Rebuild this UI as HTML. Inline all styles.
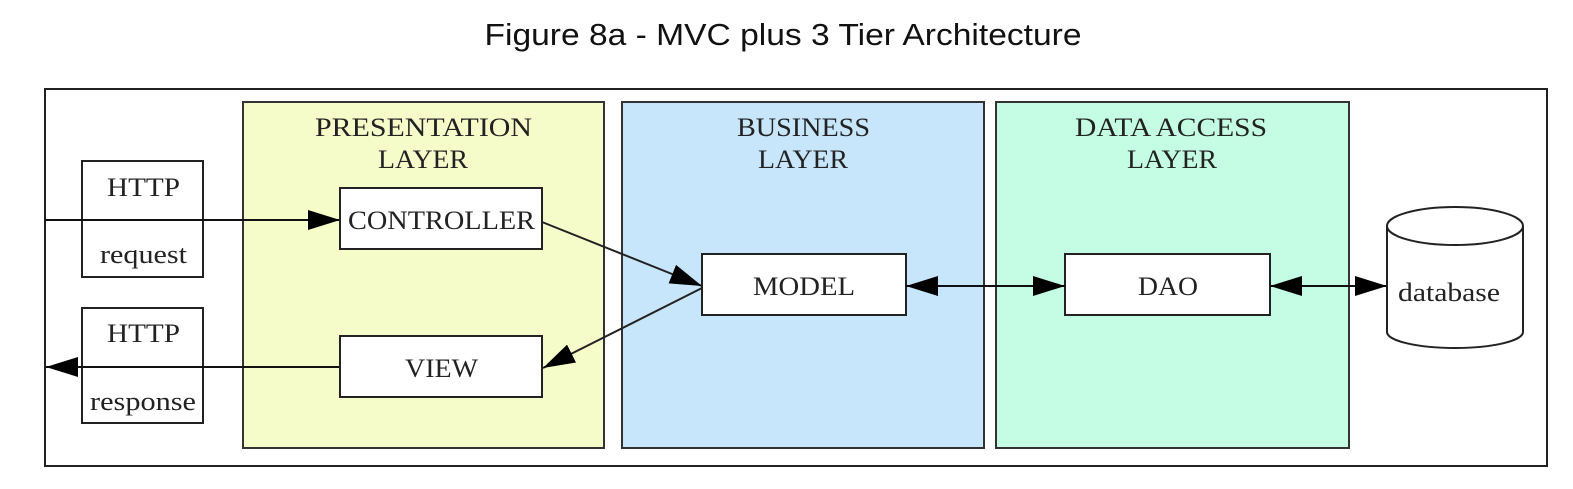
<!DOCTYPE html>
<html><head><meta charset="utf-8"><style>
html,body{margin:0;padding:0;background:#fff;width:1573px;height:489px;overflow:hidden}
svg{display:block}
.s{font-family:"Liberation Serif",serif;font-size:26px;fill:#222}
</style></head><body>
<svg width="1573" height="489" viewBox="0 0 1573 489" xmlns="http://www.w3.org/2000/svg">
<defs>
<marker id="a" markerWidth="32" markerHeight="24" refX="32" refY="12" orient="auto" markerUnits="userSpaceOnUse">
<path d="M0,2 L32,12 L0,22 z" fill="#000"/></marker>
</defs>
<text x="783" y="45" text-anchor="middle" font-family="Liberation Sans, sans-serif" font-size="31" fill="#111" textLength="597" lengthAdjust="spacingAndGlyphs">Figure 8a - MVC plus 3 Tier Architecture</text>
<rect x="45" y="89" width="1502" height="377" fill="#fff" stroke="#222" stroke-width="2"/>
<rect x="243" y="102" width="361" height="346" fill="#f5fcca" stroke="#333" stroke-width="2"/>
<rect x="622" y="102" width="362" height="346" fill="#c7e6fb" stroke="#333" stroke-width="2"/>
<rect x="996" y="102" width="353" height="346" fill="#c4fde3" stroke="#333" stroke-width="2"/>
<text class="s" x="315" y="136" textLength="217" lengthAdjust="spacingAndGlyphs">PRESENTATION</text>
<text class="s" x="378" y="168" textLength="90" lengthAdjust="spacingAndGlyphs">LAYER</text>
<text class="s" x="737" y="136" textLength="133" lengthAdjust="spacingAndGlyphs">BUSINESS</text>
<text class="s" x="758" y="168" textLength="90" lengthAdjust="spacingAndGlyphs">LAYER</text>
<text class="s" x="1075" y="136" textLength="192" lengthAdjust="spacingAndGlyphs">DATA ACCESS</text>
<text class="s" x="1127" y="168" textLength="90" lengthAdjust="spacingAndGlyphs">LAYER</text>
<rect x="82" y="161" width="121" height="116" fill="#fff" stroke="#222" stroke-width="2"/>
<text class="s" x="107" y="196" textLength="73" lengthAdjust="spacingAndGlyphs">HTTP</text>
<text class="s" x="100" y="263" textLength="87" lengthAdjust="spacingAndGlyphs">request</text>
<rect x="82" y="308" width="121" height="115" fill="#fff" stroke="#222" stroke-width="2"/>
<text class="s" x="107" y="342" textLength="73" lengthAdjust="spacingAndGlyphs">HTTP</text>
<text class="s" x="90" y="410" textLength="106" lengthAdjust="spacingAndGlyphs">response</text>
<line x1="45" y1="220" x2="340" y2="220" stroke="#111" stroke-width="2" marker-end="url(#a)"/>
<line x1="340" y1="367" x2="46" y2="367" stroke="#111" stroke-width="2" marker-end="url(#a)"/>
<rect x="340" y="188" width="202" height="61" fill="#fff" stroke="#222" stroke-width="2"/>
<text class="s" x="348" y="229" textLength="187" lengthAdjust="spacingAndGlyphs">CONTROLLER</text>
<rect x="340" y="336" width="202" height="61" fill="#fff" stroke="#222" stroke-width="2"/>
<text class="s" x="405" y="377" textLength="73" lengthAdjust="spacingAndGlyphs">VIEW</text>
<rect x="702" y="254" width="204" height="61" fill="#fff" stroke="#222" stroke-width="2"/>
<text class="s" x="753" y="295" textLength="102" lengthAdjust="spacingAndGlyphs">MODEL</text>
<rect x="1065" y="254" width="205" height="61" fill="#fff" stroke="#222" stroke-width="2"/>
<text class="s" x="1138" y="295" textLength="60" lengthAdjust="spacingAndGlyphs">DAO</text>
<line x1="542" y1="222" x2="702" y2="286" stroke="#222" stroke-width="2" marker-end="url(#a)"/>
<line x1="702" y1="288" x2="543" y2="368" stroke="#222" stroke-width="2" marker-end="url(#a)"/>
<line x1="940" y1="286" x2="1065" y2="286" stroke="#111" stroke-width="2" marker-end="url(#a)"/>
<line x1="1000" y1="286" x2="906" y2="286" stroke="#111" stroke-width="2" marker-end="url(#a)"/>
<line x1="1300" y1="286" x2="1387" y2="286" stroke="#111" stroke-width="2" marker-end="url(#a)"/>
<line x1="1330" y1="286" x2="1270" y2="286" stroke="#111" stroke-width="2" marker-end="url(#a)"/>
<path d="M1387,226 L1387,332 A68,16 0 0 0 1523,332 L1523,226" fill="#fff" stroke="#222" stroke-width="2"/>
<ellipse cx="1455" cy="226" rx="68" ry="19" fill="#fff" stroke="#222" stroke-width="2"/>
<text class="s" x="1398" y="301" textLength="102" lengthAdjust="spacingAndGlyphs">database</text>
</svg>
</body></html>
